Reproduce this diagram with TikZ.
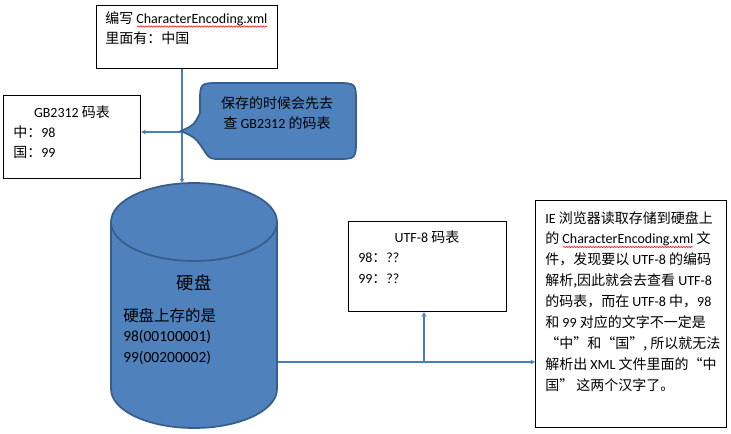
\documentclass[tikz,border=0pt]{standalone}
\usepackage{fontspec}
\setmainfont{Carlito}
\newfontfamily\cjk{Noto Sans CJK SC}
\usetikzlibrary{arrows.meta,decorations.pathmorphing}
\definecolor{ofblue}{HTML}{4F81BD}
\definecolor{ofedge}{HTML}{385D8A}
\definecolor{ofline}{HTML}{4A7EBB}
\newcommand\zh[1]{{\cjk #1}}
\begin{document}
\begin{tikzpicture}[x=0.75pt,y=-0.75pt,
  font=\fontsize{10.5}{12}\selectfont,
  box/.style={draw=black, line width=0.9pt, inner sep=0, anchor=north west},
  txt/.style={inner sep=0, anchor=base west},
  ctxt/.style={inner sep=0, anchor=base},
  conn/.style={draw=ofline, line width=0.8pt},
  arr/.style={conn, -{Stealth[length=3.5pt,width=3.5pt]}},
  cyl/.style={fill=ofblue, draw=ofedge, line width=1.3pt},
  bubble/.style={fill=ofblue, draw=ofedge, line width=1.3pt},
  squig/.style={draw=red, line width=0.4pt, decorate, decoration={snake, amplitude=0.5pt, segment length=2pt}}]

\useasboundingbox (0,0) rectangle (731,433);
\fill[white] (0,0) rectangle (731,433);

% boxes
\node[box, minimum width=135.75pt, minimum height=47.25pt] (top) at (96,5) {};
\node[box, minimum width=102.75pt, minimum height=62.25pt] (gb) at (3,95) {};
\node[box, minimum width=118.5pt, minimum height=67.5pt] (utf) at (348,221) {};
\node[box, minimum width=143.25pt, minimum height=170.25pt] (info) at (535,200) {};

% coordinates for connectors
\coordinate (j1) at (182,132);
\coordinate (cyltop) at (182,183);
\coordinate (cylr) at (277,362);
\coordinate (j2) at (424,362);

% connectors
\draw[arr] (top.south -| j1) -- (cyltop);
\draw[arr] (j1) -- (j1 -| gb.east);
\draw[arr] (cylr) -- (cylr -| info.west);
\draw[arr] (j2) -- (utf.south -| j2);

% cylinder
\fill[ofblue] (111,222) rectangle (277,389);
\filldraw[cyl] (194,389) ellipse [x radius=83, y radius=39];
\fill[ofblue] (111,222) rectangle (277,389);
\draw[ofedge, line width=1.3pt] (111,222) -- (111,389) (277,222) -- (277,389);
\filldraw[cyl] (194,222) ellipse [x radius=83, y radius=39];

% speech bubble
\draw[bubble] (200,113) -- (200,103) .. controls (200,83) .. (220,83) -- (336,83)
  .. controls (356,83) .. (356,103) -- (356,139) .. controls (356,159) .. (336,159)
  -- (222,159) .. controls (210,159) .. (205,152)
  .. controls (196,138) .. (181,131) .. controls (194,125) .. cycle;

% texts: top box
\node[txt] (t1) at (105,23) {\zh{编写} CharacterEncoding.xml};
\node[txt] (t2) at (105,43) {\zh{里面有：中国}};
\draw[squig] (137,26.5) -- (267,26.5);

% GB2312 box
\node[ctxt] (g0) at (72,117) {GB2312 \zh{码表}};
\node[txt] (g1) at (13,137) {\zh{中：}98};
\node[txt] (g2) at (13,157) {\zh{国：}99};

% bubble text
\node[ctxt] (b1) at (277,108) {\zh{保存的时候会先去}};
\node[ctxt] (b2) at (277,128) {\zh{查} GB2312 \zh{的码表}};

% cylinder text
\node[ctxt, font=\fontsize{13}{15}\selectfont] (c0) at (194,289) {\zh{硬盘}};
\node[txt, font=\fontsize{11.6}{14}\selectfont] (c1) at (123,321) {\zh{硬盘上存的是}};
\node[txt, font=\fontsize{11.6}{14}\selectfont] (c2) at (123,341) {98(00100001)};
\node[txt, font=\fontsize{11.6}{14}\selectfont] (c3) at (123,362) {99(00200002)};

% UTF-8 box
\node[ctxt] (u0) at (427,242) {UTF-8 \zh{码表}};
\node[txt] (u1) at (358,262) {98\zh{：}??};
\node[txt] (u2) at (358,283) {99\zh{：}??};

% info box
\node[txt] (r1) at (545,223) {IE \zh{浏览器读取存储到硬盘上}};
\node[txt] (r2) at (545,243.9) {\zh{的} CharacterEncoding.xml \zh{文}};
\node[txt] (r3) at (545,264.8) {\zh{件，发现要以} UTF-8 \zh{的编码}};
\node[txt] (r4) at (545,285.7) {\zh{解析,因此就会去查看} UTF-8};
\node[txt] (r5) at (545,306.6) {\zh{的码表，而在} UTF-8 \zh{中，}98};
\node[txt] (r6) at (545,327.5) {\zh{和} 99 \zh{对应的文字不一定是}};
\node[txt] (r7) at (545,348.4) {\zh{“中”和“国”, 所以就无法}};
\node[txt] (r8) at (545,369.3) {\zh{解析出} XML \zh{文件里面的“中}};
\node[txt] (r9) at (545,390.2) {\zh{国” 这两个汉字了。}};
\draw[squig] (563,247) -- (693,247);

\end{tikzpicture}
\end{document}
